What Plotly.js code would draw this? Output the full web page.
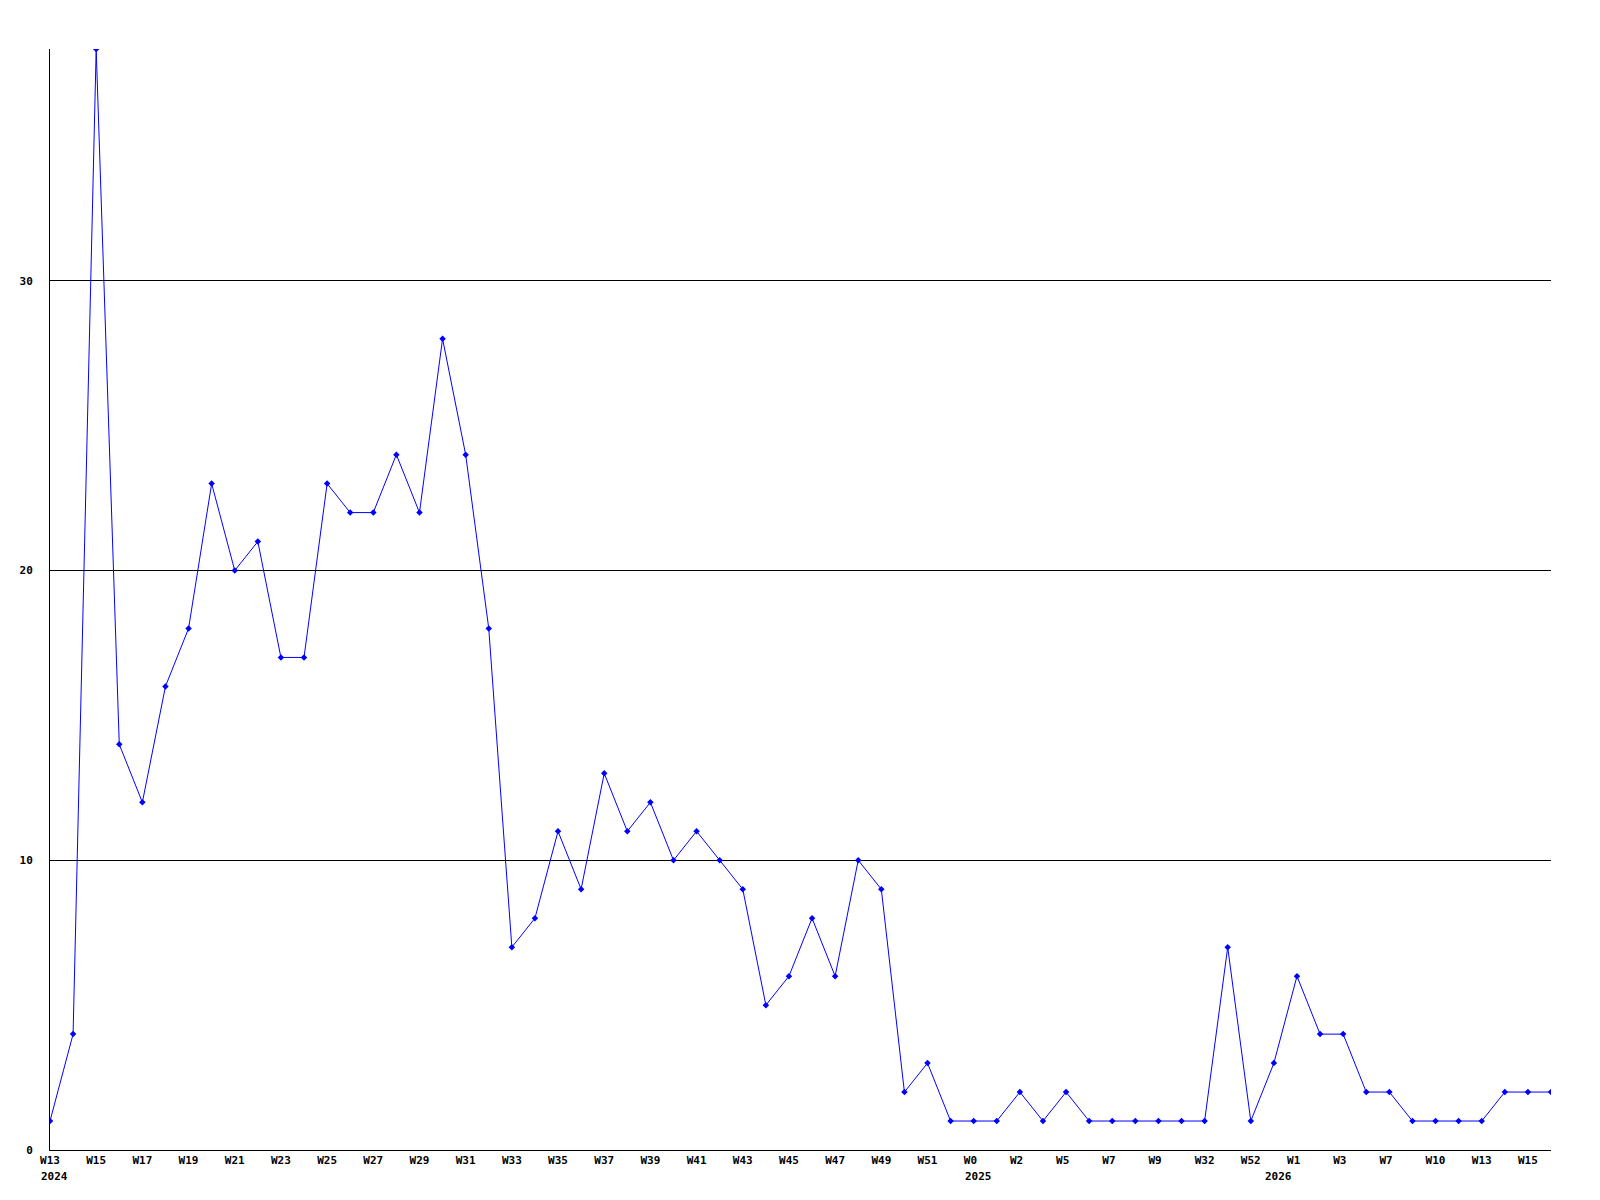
<!DOCTYPE html>
<html>
<head>
<meta charset="utf-8">
<script src="https://cdn.plot.ly/plotly-3.0.1.min.js"></script>
<style>
  html, body { margin: 0; padding: 0; background: #ffffff; }
  #chart { width: 1600px; height: 1200px; }
</style>
</head>
<body>
<div id="chart"></div>
<script>
// Week labels for each data point (odd-indexed ones are not shown on the axis)
const weeks = [
  "W13","W14","W15","W16","W17","W18","W19","W20","W21","W22",
  "W23","W24","W25","W26","W27","W28","W29","W30","W31","W32",
  "W33","W34","W35","W36","W37","W38","W39","W40","W41","W42",
  "W43","W44","W45","W46","W47","W48","W49","W50","W51","W52",
  "W0","W1","W2","W4","W5","W6","W7","W8","W9","W10",
  "W32","W33","W52","W0","W1","W2","W3","W5","W7","W8",
  "W10","W11","W13","W14","W15","W16"
];

// Counts per week
const counts = [
  1, 4, 38, 14, 12, 16, 18, 23, 20, 21,
  17, 17, 23, 22, 22, 24, 22, 28, 24, 18,
  7, 8, 11, 9, 13, 11, 12, 10, 11, 10,
  9, 5, 6, 8, 6, 10, 9, 2, 3, 1,
  1, 1, 2, 1, 2, 1, 1, 1, 1, 1,
  1, 7, 1, 3, 6, 4, 4, 2, 2, 1,
  1, 1, 1, 2, 2, 2
];

// Year labels and the point index where each starts
const years = ["2024", "2025", "2026"];
const yearStart = [0, 40, 53];

const yTicks = [0, 10, 20, 30];

const idx = counts.map((_, i) => i);
const tickIdx = idx.filter(i => i % 2 === 0);
const tickText = tickIdx.map(i => weeks[i].length < 3 ? weeks[i] + "\u00a0" : weeks[i]);

const font = { family: "DejaVu Sans Mono, monospace", size: 11, color: "#000000", weight: "bold" };

const trace = {
  type: "scatter",
  mode: "lines+markers",
  x: idx,
  y: counts,
  text: weeks,
  line: { color: "#0000ff", width: 1 },
  marker: { color: "#0000ff", size: 5, symbol: "diamond" },
  hoverinfo: "text+y"
};

const annotations = years.map((yr, k) => ({
  text: yr,
  x: yearStart[k],
  xref: "x",
  y: 0,
  yref: "paper",
  xanchor: "left",
  yanchor: "top",
  xshift: -11,
  yshift: -18,
  showarrow: false,
  font: font
}));

const layout = {
  width: 1600,
  height: 1200,
  margin: { l: 50, r: 49, t: 49, b: 50 },
  paper_bgcolor: "#ffffff",
  plot_bgcolor: "#ffffff",
  showlegend: false,
  font: font,
  xaxis: {
    type: "linear",
    range: [0, 65],
    tickvals: tickIdx,
    ticktext: tickText,
    showgrid: false,
    zeroline: false,
    showline: true,
    linecolor: "#000000",
    linewidth: 1,
    ticks: "",
    tickfont: font,
    fixedrange: true
  },
  yaxis: {
    range: [0, 38],
    tickvals: yTicks,
    ticktext: yTicks.map(String),
    showgrid: true,
    gridcolor: "#000000",
    gridwidth: 1,
    zeroline: false,
    showline: true,
    linecolor: "#000000",
    linewidth: 1,
    ticks: "",
    ticklabelstandoff: 14,
    tickfont: font,
    fixedrange: true
  },
  annotations: annotations
};

Plotly.newPlot("chart", [trace], layout, { displayModeBar: false, staticPlot: true });
</script>
</body>
</html>
